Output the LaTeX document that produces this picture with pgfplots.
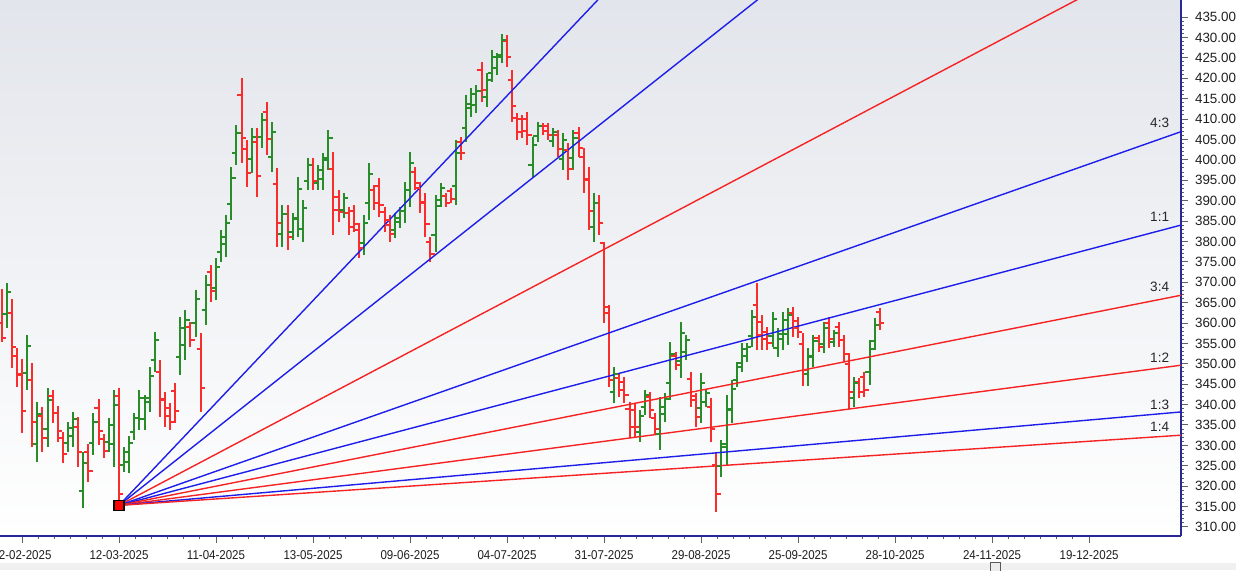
\documentclass[border=0pt]{standalone}
\usepackage{pgfplots}
\pgfplotsset{compat=1.18}
\usepackage{pgfplotstable}
\usepackage{fontspec}
\setmainfont{Liberation Sans}
\newfontfamily\xfont[FakeStretch=0.9]{Liberation Sans}
\definecolor{upc}{RGB}{40,140,40}
\definecolor{dnc}{RGB}{250,45,45}
\definecolor{fanblue}{RGB}{30,30,235}
\definecolor{fanred}{RGB}{245,35,35}
\definecolor{axcol}{RGB}{40,40,150}
\definecolor{bgtop}{RGB}{226,229,235}
\definecolor{bgmid}{RGB}{245,246,248}
\definecolor{strip}{RGB}{240,240,240}
\pgfdeclareplotmark{otick}{\pgfpathmoveto{\pgfqpoint{-2.1pt}{0pt}}\pgfpathlineto{\pgfqpoint{0pt}{0pt}}\pgfusepathqstroke}
\pgfdeclareplotmark{ctick}{\pgfpathmoveto{\pgfqpoint{0pt}{0pt}}\pgfpathlineto{\pgfqpoint{2.1pt}{0pt}}\pgfusepathqstroke}

\pgfplotstableread{
i o h l c
-3 362.1 369.8 358.8 367.6
1 347.7 357.1 343.6 354.4
3 330.3 340.6 325.9 337.7
5 334.0 344.1 329.6 341.2
9 330.6 335.7 328.4 334.2
10 332.2 338.2 329.6 336.5
12 318.8 328.4 314.7 325.7
14 330.7 337.9 327.6 335.8
17 330.9 336.7 328.4 335.0
18 330.4 343.6 324.7 339.8
20 325.3 329.6 323.5 328.4
21 325.9 332.3 323.2 330.5
22 333.3 337.9 331.3 336.6
23 336.7 343.6 333.8 341.6
24 336.4 342.4 333.8 340.7
25 341.5 349.2 338.2 347.0
26 350.9 357.8 348.0 355.8
31 351.6 361.5 347.3 358.7
32 354.6 363.2 350.9 360.7
34 360.1 368.1 356.6 365.8
36 363.2 371.8 359.5 369.3
38 368.7 375.9 365.6 373.8
39 377.3 382.8 374.9 381.2
40 379.3 386.5 376.2 384.4
41 389.1 398.2 385.2 395.6
42 401.6 408.5 398.7 406.5
45 400.1 407.8 396.8 405.6
47 405.5 411.5 402.9 409.8
49 400.7 409.3 397.0 406.8
51 381.7 388.9 378.6 386.8
53 382.3 387.0 380.3 385.7
54 385.5 395.8 381.1 392.9
55 383.0 390.1 379.9 388.1
56 394.9 400.4 392.6 398.8
58 394.4 398.7 392.6 397.5
59 395.3 401.7 392.6 399.9
60 400.4 407.3 397.5 405.3
63 387.6 391.9 385.7 390.7
67 379.6 386.5 376.7 384.5
68 389.4 399.2 385.2 396.4
73 382.7 387.0 380.8 385.8
74 384.8 388.4 383.3 387.4
75 387.5 394.6 384.5 392.6
76 392.5 401.9 388.4 399.2
81 381.6 391.4 377.4 388.6
82 390.2 394.3 388.4 393.1
85 393.7 404.9 388.9 401.7
87 407.9 415.9 404.4 413.6
88 412.6 417.6 410.5 416.2
89 413.5 418.3 411.5 416.9
91 415.4 421.3 412.9 419.6
92 421.4 426.9 419.1 425.3
93 422.4 426.2 420.8 425.1
94 425.8 430.8 423.7 429.4
100 398.7 405.6 395.8 403.6
101 405.9 409.3 404.4 408.3
104 404.5 407.8 403.1 406.9
106 400.2 406.6 397.5 404.8
108 400.4 407.3 397.5 405.3
112 383.5 391.9 379.9 389.5
116 343.0 349.2 340.4 347.4
121 333.2 338.7 330.8 337.1
122 339.3 343.6 337.5 342.4
125 332.8 341.9 328.9 339.3
126 337.8 342.8 335.7 341.4
127 345.4 355.3 341.1 352.5
129 350.6 360.2 346.5 357.5
130 352.8 357.1 350.9 355.9
133 339.2 347.7 335.5 345.3
134 340.7 343.6 339.4 342.8
137 325.0 331.3 322.3 329.5
138 330.4 342.4 325.2 339.0
139 338.7 346.0 335.5 343.9
140 346.1 350.4 344.3 349.2
141 350.1 355.1 348.0 353.7
142 351.8 355.1 350.4 354.2
143 356.8 363.2 354.1 361.4
147 356.7 362.7 354.1 360.9
148 353.8 358.8 351.7 357.4
149 356.2 362.7 353.4 360.8
150 357.3 363.7 354.6 361.9
154 347.4 353.9 344.6 352.0
155 351.6 357.1 349.2 355.5
157 354.9 360.2 352.6 358.7
159 355.4 358.3 354.1 357.5
163 341.6 346.8 339.4 345.3
166 348.1 355.8 344.8 353.6
167 355.7 361.2 353.4 359.6
}\up

\pgfplotstableread{
i o h l c
-4 360.0 368.3 355.3 356.3
-2 362.5 365.9 349.0 354.1
-1 352.0 353.9 344.3 347.2
0 347.6 351.2 333.0 338.5
2 346.1 350.2 329.6 335.8
4 337.2 339.4 328.4 331.7
6 342.0 343.6 335.5 337.9
7 337.9 339.7 330.8 333.5
8 331.8 333.3 325.7 328.0
11 334.5 337.0 324.7 328.4
13 328.4 330.3 321.0 323.8
15 339.1 341.4 330.1 333.5
16 331.6 332.8 326.9 328.7
19 342.0 344.1 315.3 318.0
27 348.1 350.9 337.0 341.2
28 341.4 343.1 334.5 337.1
29 339.1 340.4 333.8 335.8
30 343.3 345.3 335.5 338.4
33 359.0 360.2 354.1 355.9
35 353.6 357.5 338.2 344.0
37 372.4 374.2 365.1 367.8
43 415.8 420.0 399.2 405.4
44 402.6 404.9 393.3 396.8
46 404.4 407.8 390.9 396.0
48 411.6 414.2 401.2 405.1
50 394.1 398.0 378.6 384.4
52 386.7 388.9 377.9 381.2
57 398.8 400.4 392.6 394.9
61 397.8 401.9 381.6 387.7
62 391.0 392.6 384.8 387.1
64 387.0 388.4 381.6 383.6
65 387.5 388.9 382.3 384.3
66 382.8 384.5 375.9 378.5
69 392.6 393.8 387.7 389.5
70 393.6 395.5 386.0 388.9
71 387.2 388.4 382.3 384.1
72 385.2 386.5 379.9 381.9
77 397.1 398.2 392.6 394.3
78 393.1 394.6 387.0 389.3
79 389.7 391.9 381.1 384.3
80 379.9 381.1 375.0 376.8
83 391.2 391.9 388.4 389.4
84 392.4 393.1 389.4 390.5
86 404.4 405.5 400.0 401.6
90 422.0 424.0 414.2 417.1
95 429.0 430.6 422.7 425.1
96 419.5 422.0 409.3 413.1
97 410.2 411.5 404.9 406.9
98 409.9 411.0 405.3 407.0
99 410.1 411.7 403.6 406.0
102 408.4 409.0 406.1 407.0
103 408.2 409.0 404.9 406.1
105 406.0 407.3 400.7 402.7
107 402.3 404.1 395.0 397.7
109 406.5 408.0 400.7 402.9
110 400.7 402.9 391.9 395.2
111 395.1 398.2 382.8 387.4
113 389.4 391.4 381.6 384.5
114 379.5 379.9 360.0 364.0
115 362.5 364.4 344.3 346.0
117 346.5 347.7 341.9 343.6
118 345.5 346.8 340.4 342.3
119 338.8 340.6 331.8 334.4
120 338.7 340.4 331.8 334.4
123 341.8 343.1 336.7 338.6
124 336.8 337.9 332.5 334.1
128 352.0 352.9 348.5 349.8
131 346.3 348.0 339.4 342.0
132 341.1 342.8 334.5 337.0
135 339.4 341.6 330.8 334.0
136 325.2 328.1 313.7 318.0
144 364.5 369.8 353.4 357.0
145 360.3 362.0 353.4 356.0
146 357.9 359.0 353.4 355.1
151 362.4 363.9 356.6 358.8
152 360.5 361.5 356.3 357.9
153 354.9 357.5 344.6 348.5
156 356.3 357.1 352.9 354.2
158 360.0 361.5 353.9 356.2
160 359.0 360.2 354.1 355.9
161 355.8 357.1 350.4 352.4
162 349.9 352.6 338.9 343.0
164 345.5 346.5 341.6 343.1
165 346.8 348.0 341.9 343.7
168 362.6 363.7 358.3 359.9
}\down

\begin{document}
\begin{tikzpicture}
\path[use as bounding box, fill=white] (0,-17pt) rectangle (618pt,268pt);
\fill[strip] (0,-17pt) rectangle (618pt,-13.5pt);
\draw[gray!70!black, fill=gray!15, line width=0.4pt] (495pt,-17.5pt) -- (495pt,-13pt) -- (500pt,-13pt) -- (500pt,-17.5pt);
\begin{axis}[
  at={(0,0)}, anchor=south west,
  scale only axis, width=590.5pt, height=268pt,
  xmin=-4.31, xmax=227, ymin=307.79, ymax=439.17,
  axis x line*=bottom, axis y line*=right,
  axis line style={axcol, line width=0.8pt},
  axis background/.style={top color=bgtop, middle color=bgmid, bottom color=white},
  tick align=outside,
  major tick length=3.5pt, minor tick length=1.5pt,
  tick style={gray!75!black, line width=0.5pt},
  xtick={0,19,...,209},
  xticklabels={12-02-2025,12-03-2025,11-04-2025,13-05-2025,09-06-2025,04-07-2025,31-07-2025,29-08-2025,25-09-2025,28-10-2025,24-11-2025,19-12-2025},
  minor x tick num=5,
  ytick={310,315,...,435},
  minor y tick num=4,
  scaled y ticks=false,
  /pgf/number format/assume math mode=true,
  yticklabel style={/pgf/number format/fixed, /pgf/number format/fixed zerofill, /pgf/number format/precision=2, font=\fontsize{6.7}{8}\selectfont, text=black!88},
  xticklabel style={font=\xfont\fontsize{6.4}{7}\selectfont, text=black!88},
]
% high-low lines with open ticks
\addplot[only marks, mark=otick, upc, mark options={line width=1pt},
  error bars/.cd, y dir=both, y explicit, error mark=none, error bar style={upc, line width=1pt}]
  table[x=i, y=o, y error plus expr=\thisrow{h}-\thisrow{o}, y error minus expr=\thisrow{o}-\thisrow{l}] {\up};
\addplot[only marks, mark=otick, dnc, mark options={line width=1pt},
  error bars/.cd, y dir=both, y explicit, error mark=none, error bar style={dnc, line width=1pt}]
  table[x=i, y=o, y error plus expr=\thisrow{h}-\thisrow{o}, y error minus expr=\thisrow{o}-\thisrow{l}] {\down};
% close ticks
\addplot[only marks, mark=ctick, upc, mark options={line width=1pt}] table[x=i, y=c] {\up};
\addplot[only marks, mark=ctick, dnc, mark options={line width=1pt}] table[x=i, y=c] {\down};
% Gann fan
\addplot[fanblue, line width=0.7pt] coordinates {(19,315.3) (227,590.1)};
\addplot[fanblue, line width=0.7pt] coordinates {(19,315.3) (227,521.4)};
\addplot[fanred, line width=0.7pt] coordinates {(19,315.3) (227,452.7)};
\addplot[fanblue, line width=0.7pt] coordinates {(19,315.3) (227,406.9)};
\addplot[fanblue, line width=0.7pt] coordinates {(19,315.3) (227,384.0)};
\addplot[fanred, line width=0.7pt] coordinates {(19,315.3) (227,366.8)};
\addplot[fanred, line width=0.7pt] coordinates {(19,315.3) (227,349.65)};
\addplot[fanblue, line width=0.7pt] coordinates {(19,315.3) (227,338.2)};
\addplot[fanred, line width=0.7pt] coordinates {(19,315.3) (227,332.5)};
\addplot[only marks, mark=square*, mark size=2.5pt, mark options={fill=red, draw=black, line width=0.6pt}] coordinates {(19,315.3)};
\node[anchor=base east, font=\fontsize{6.8}{8}\selectfont, text=black!85] at (axis cs:226.05,407.8) {4:3};
\node[anchor=base east, font=\fontsize{6.8}{8}\selectfont, text=black!85] at (axis cs:226.05,384.8) {1:1};
\node[anchor=base east, font=\fontsize{6.8}{8}\selectfont, text=black!85] at (axis cs:226.05,367.8) {3:4};
\node[anchor=base east, font=\fontsize{6.8}{8}\selectfont, text=black!85] at (axis cs:226.05,350.2) {1:2};
\node[anchor=base east, font=\fontsize{6.8}{8}\selectfont, text=black!85] at (axis cs:226.05,338.9) {1:3};
\node[anchor=base east, font=\fontsize{6.8}{8}\selectfont, text=black!85] at (axis cs:226.05,333.3) {1:4};
\end{axis}
\end{tikzpicture}
\end{document}
